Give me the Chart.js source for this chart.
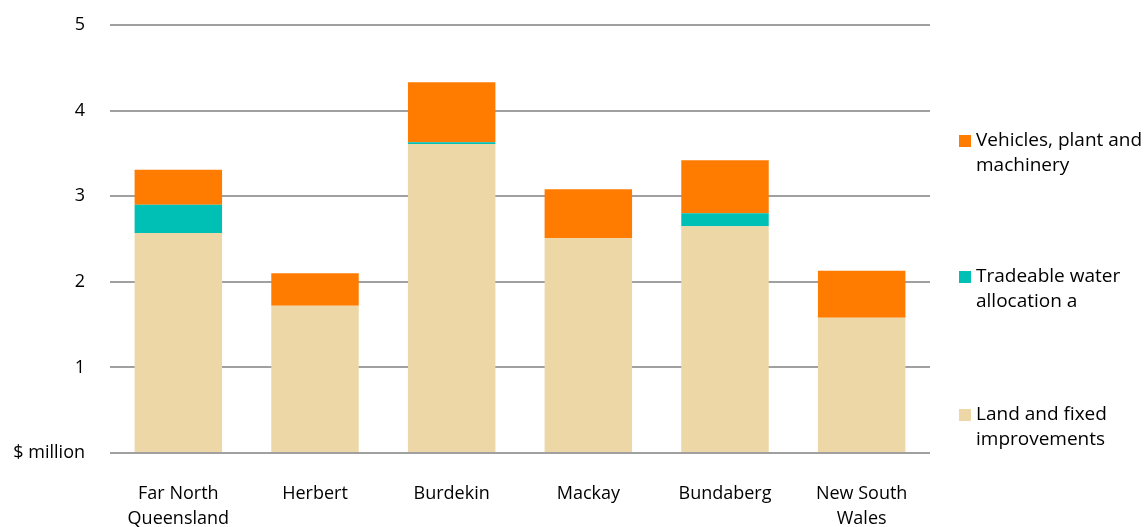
<!DOCTYPE html>
<html>
<head>
<meta charset="utf-8">
<script src="https://cdn.jsdelivr.net/npm/chart.js@4.4.1/dist/chart.umd.min.js"></script>
<style>
  html, body { margin: 0; padding: 0; background: #fff; }
  #wrap { width: 1145px; height: 527px; position: relative; }
</style>
</head>
<body>
<div id="wrap"><canvas id="chart"></canvas></div>
<script>
const regions = [['Far North', 'Queensland'], 'Herbert', 'Burdekin', 'Mackay', 'Bundaberg', ['New South', 'Wales']];
const landValues = [2.57, 1.72, 3.61, 2.51, 2.65, 1.58];
const waterValues = [0.33, 0, 0.02, 0, 0.15, 0];
const vehicleValues = [0.41, 0.38, 0.70, 0.57, 0.62, 0.55];
const yTicks = [0, 1, 2, 3, 4, 5];

const FONT = "'Open Sans', 'Liberation Sans', sans-serif";
const colours = { land: '#edd7a6', water: '#00bfb4', vehicles: '#ff7c00' };

// legend drawn by hand so the labels can wrap onto two lines
const sideLegend = {
  id: 'sideLegend',
  afterDraw(chart) {
    const ctx = chart.ctx;
    const items = [
      { colour: colours.vehicles, lines: ['Vehicles, plant and', 'machinery'], y: 141 },
      { colour: colours.water, lines: ['Tradeable water', 'allocation a'], y: 277 },
      { colour: colours.land, lines: ['Land and fixed', 'improvements'], y: 415 }
    ];
    ctx.save();
    ctx.font = '19px ' + FONT;
    ctx.textBaseline = 'middle';
    items.forEach(it => {
      ctx.fillStyle = it.colour;
      ctx.fillRect(959, it.y - 6, 12, 12);
      ctx.fillStyle = '#000';
      it.lines.forEach((l, i) => ctx.fillText(l, 976, it.y + i * 25));
    });
    ctx.restore();
  }
};

new Chart(document.getElementById('chart').getContext('2d'), {
  type: 'bar',
  data: {
    labels: regions,
    datasets: [
      { label: 'Land and fixed improvements', data: landValues, backgroundColor: colours.land },
      { label: 'Tradeable water allocation a', data: waterValues, backgroundColor: colours.water },
      { label: 'Vehicles, plant and machinery', data: vehicleValues, backgroundColor: colours.vehicles }
    ]
  },
  options: {
    responsive: true,
    maintainAspectRatio: false,
    animation: false,
    layout: { padding: { top: 25, right: 215, left: 0, bottom: 0 } },
    datasets: { bar: { categoryPercentage: 0.64, barPercentage: 1 } },
    plugins: { legend: { display: false }, tooltip: { enabled: false } },
    scales: {
      x: {
        stacked: true,
        grid: { display: false, drawTicks: false },
        border: { display: false },
        ticks: { color: '#000', font: { family: FONT, size: 18, lineHeight: 1.4 }, padding: 28, maxRotation: 0 },
        afterFit(scale) { scale.height = 74; }
      },
      y: {
        stacked: true,
        min: 0,
        max: 5,
        afterBuildTicks(scale) { scale.ticks = yTicks.map(v => ({ value: v })); },
        grid: { color: '#a0a0a0', lineWidth: 2, drawTicks: true, tickLength: 22, tickColor: 'transparent' },
        border: { display: false },
        ticks: {
          color: '#000',
          font: { family: FONT, size: 18 },
          padding: 3,
          callback: v => v === 0 ? '$ million' : v
        },
        afterFit(scale) { scale.width = 110; }
      }
    }
  },
  plugins: [sideLegend]
});
</script>
</body>
</html>
